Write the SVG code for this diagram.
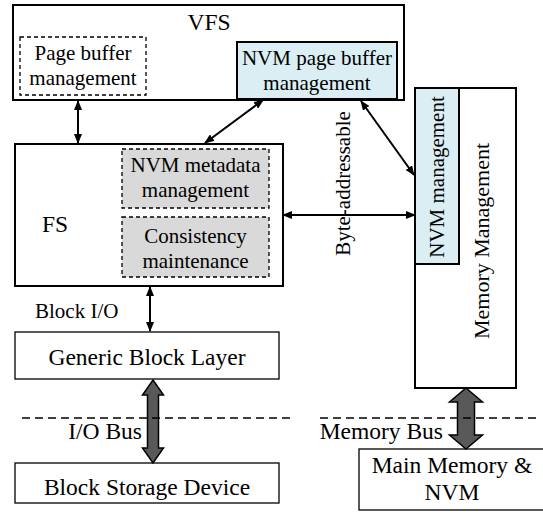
<svg xmlns="http://www.w3.org/2000/svg" width="543" height="515" viewBox="0 0 543 515">
<defs>
<style>
text{font-family:"Liberation Serif","Times New Roman",serif;fill:#000}
.t23{font-size:23.5px}
.t21{font-size:21px}
.m{text-anchor:middle}
.box{fill:#fff;stroke:#000;stroke-width:2}
.thin{fill:#fff;stroke:#000;stroke-width:1.3}
.blue{fill:#DAEEF3;stroke:#000;stroke-width:2}
.dash{fill:#fff;stroke:#000;stroke-width:1.3;stroke-dasharray:4 3}
.grey{fill:#D9D9D9;stroke:#000;stroke-width:1.3;stroke-dasharray:4 3}
.arr{stroke:#000;stroke-width:2;fill:none;marker-start:url(#ah);marker-end:url(#ah)}
.big{fill:#595959;stroke:#000;stroke-width:1.5;stroke-linejoin:miter}
.sep{stroke:#000;stroke-width:1.5;stroke-dasharray:8 5;fill:none}
</style>
<marker id="ah" viewBox="0 0 10 8" refX="9" refY="4" markerWidth="10" markerHeight="8" markerUnits="userSpaceOnUse" orient="auto-start-reverse">
<path d="M0,0 L10,4 L0,8 z" fill="#000"/>
</marker>
</defs>

<g id="vfs">
<rect class="box" x="13" y="5" width="391" height="95"/>
<text class="t23 m" x="209" y="30">VFS</text>
</g>
<g id="page-buffer">
<rect class="dash" x="20" y="37" width="126" height="58"/>
<text class="t21 m" x="83" y="60">Page buffer</text>
<text class="t21 m" x="83" y="85">management</text>
</g>
<g id="nvm-page-buffer">
<rect class="blue" x="237" y="42" width="160" height="57"/>
<text class="t21 m" x="317" y="65">NVM page buffer</text>
<text class="t21 m" x="317" y="90">management</text>
</g>

<g id="fs">
<rect class="box" x="15" y="144" width="268" height="142"/>
<text class="t23" x="42" y="232">FS</text>
</g>
<g id="nvm-metadata">
<rect class="grey" x="122" y="149" width="147" height="59"/>
<text class="t21 m" x="195.5" y="172">NVM metadata</text>
<text class="t21 m" x="195.5" y="197">management</text>
</g>
<g id="consistency">
<rect class="grey" x="122" y="217" width="147" height="60"/>
<text class="t21 m" x="195.5" y="243">Consistency</text>
<text class="t21 m" x="195.5" y="268">maintenance</text>
</g>

<g id="memory-management">
<rect class="box" x="415" y="88" width="101" height="300"/>
<text class="m" style="font-size:22px" transform="translate(489,241) rotate(-90)">Memory Management</text>
</g>
<g id="nvm-management">
<rect class="blue" x="415" y="88" width="44" height="176"/>
<text class="t21 m" transform="translate(444,177) rotate(-90)">NVM management</text>
</g>

<g id="generic-block-layer">
<rect class="thin" x="15" y="332" width="264" height="47"/>
<text class="t23 m" x="147" y="365">Generic Block Layer</text>
</g>
<g id="block-storage">
<rect class="thin" x="15" y="463" width="264" height="40"/>
<text class="t23 m" x="147" y="495">Block Storage Device</text>
</g>
<g id="main-memory">
<rect class="thin" x="359" y="449" width="190" height="61"/>
<text class="t23 m" x="452" y="473">Main Memory &amp;</text>
<text class="t23 m" x="452" y="500">NVM</text>
</g>

<g id="connectors">
<line class="arr" x1="78" y1="101" x2="78" y2="143"/>
<line class="arr" x1="263" y1="100" x2="205" y2="143"/>
<line class="arr" x1="361" y1="101" x2="414" y2="175"/>
<line class="arr" x1="283" y1="215" x2="415" y2="215"/>
<line class="arr" x1="150" y1="287" x2="150" y2="331"/>
<polygon class="big" points="153,380 163.5,395 158.5,395 158.5,448 163.5,448 153,463 142.5,448 147.5,448 147.5,395 142.5,395"/>
<polygon class="big" points="466,388 482.5,402 474.5,402 474.5,435 482.5,435 466,449 449.5,435 457.5,435 457.5,402 449.5,402"/>
<line class="sep" x1="22" y1="418" x2="293" y2="418"/>
<line class="sep" x1="320" y1="418" x2="538" y2="418"/>
<text class="t21" x="35" y="318">Block I/O</text>
<text class="t23" x="142" y="439" text-anchor="end">I/O Bus</text>
<text class="t23" x="443" y="439" text-anchor="end">Memory Bus</text>
<text class="t21 m" transform="translate(350,183.5) rotate(-90)">Byte-addressable</text>
</g>
</svg>
